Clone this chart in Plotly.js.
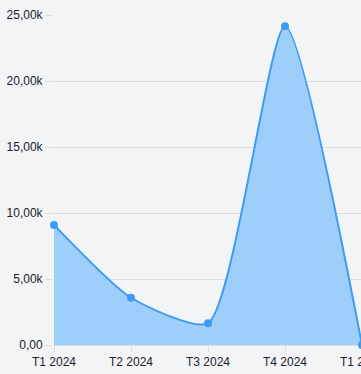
<!DOCTYPE html>
<html>
<head>
<meta charset="utf-8">
<script src="https://cdn.plot.ly/plotly-3.0.1.min.js"></script>
<style>
html,body{margin:0;padding:0;background:#f3f4f6;overflow:hidden;}
#chart{width:362px;height:374px;}
</style>
</head>
<body>
<div id="chart"></div>
<script>
const categories = ["T1 2024", "T2 2024", "T3 2024", "T4 2024", "T1 2025"];
const values = [9100, 3580, 1650, 24150, 0];
const yTickVals = [0, 5000, 10000, 15000, 20000, 25000];
const yTickText = ["0,00", "5,00k", "10,00k", "15,00k", "20,00k", "25,00k"];

const trace = {
  x: categories,
  y: values,
  type: "scatter",
  mode: "lines+markers",
  fill: "tozeroy",
  fillcolor: "rgba(158,207,251,1)",
  line: {shape: "spline", smoothing: 0.6, color: "#3b9bf5", width: 2},
  marker: {size: 8, color: "#3b9bf5"},
  cliponaxis: false,
  hoverinfo: "none"
};

const layout = {
  width: 362,
  height: 374,
  margin: {l: 54, r: 0, t: 15, b: 29},
  paper_bgcolor: "#f3f4f6",
  plot_bgcolor: "#f3f4f6",
  showlegend: false,
  font: {family: "Liberation Sans, Arial, sans-serif", size: 12, color: "#1c2030"},
  xaxis: {
    type: "category",
    range: [0, 4],
    showgrid: false,
    zeroline: false,
    showline: false,
    ticks: "outside",
    ticklen: 6,
    tickcolor: "#dcdde0",
    tickfont: {size: 12, color: "#1c2030"},
    fixedrange: true
  },
  yaxis: {
    range: [0, 25000],
    tickvals: yTickVals,
    ticktext: yTickText,
    showgrid: true,
    gridcolor: "#dcdde0",
    gridwidth: 1,
    zeroline: true,
    zerolinecolor: "#dcdde0",
    zerolinewidth: 1,
    ticks: "outside",
    ticklen: 8,
    tickcolor: "#dcdde0",
    tickfont: {size: 12, color: "#1c2030"},
    fixedrange: true
  }
};

Plotly.newPlot("chart", [trace], layout, {displayModeBar: false, staticPlot: true});
</script>
</body>
</html>
